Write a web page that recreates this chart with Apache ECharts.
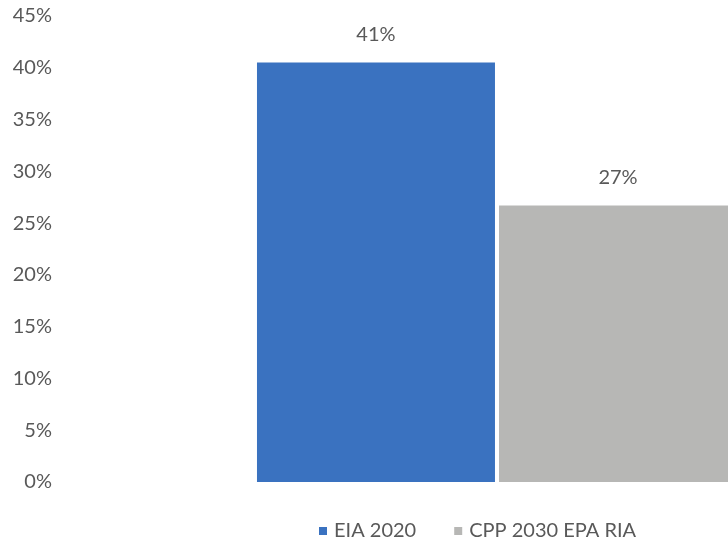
<!DOCTYPE html>
<html>
<head>
<meta charset="utf-8">
<script src="https://cdn.jsdelivr.net/npm/echarts@6/dist/echarts.min.js"></script>
<style>
  html, body { margin: 0; padding: 0; background: #fff; }
  #chart { width: 728px; height: 538px; }
</style>
</head>
<body>
<div id="chart"></div>
<script>
var categories = [''];
var seriesNames = ['EIA 2020', 'CPP 2030 EPA RIA'];
var eiaValues = [40.5];
var cppValues = [26.7];
var yTicks = { min: 0, max: 45, interval: 5 };

var chart = echarts.init(document.getElementById('chart'));
var textColor = '#595959';
var font = 'Lato, "Open Sans", sans-serif';

function barLabel() {
    return {
        show: true,
        position: 'top',
        distance: 18,
        color: textColor,
        fontFamily: font,
        fontSize: 20,
        formatter: function (p) { return Math.round(p.value) + '%'; }
    };
}

var option = {
    animation: false,
    grid: { left: 60, top: 16, bottom: 56, width: 874, outerBoundsMode: 'none', containLabel: false },
    legend: {
        data: seriesNames,
        left: 314,
        top: 516,
        itemWidth: 8,
        itemHeight: 8,
        itemGap: 38,
        icon: 'rect',
        textStyle: { color: textColor, fontFamily: font, fontSize: 20, padding: [0, 0, 0, 2] }
    },
    xAxis: {
        type: 'category',
        data: categories,
        axisLine: { show: false },
        axisTick: { show: false },
        axisLabel: { show: false }
    },
    yAxis: {
        type: 'value',
        min: yTicks.min,
        max: yTicks.max,
        interval: yTicks.interval,
        splitLine: { show: false },
        axisLine: { show: false },
        axisTick: { show: false },
        axisLabel: {
            formatter: '{value}%',
            color: textColor,
            fontFamily: font,
            fontSize: 20,
            margin: 8
        }
    },
    series: [{
        name: seriesNames[0],
        type: 'bar',
        data: eiaValues,
        barWidth: 238,
        barGap: '1.7%',
        itemStyle: { color: '#3a72c0' },
        label: barLabel()
    }, {
        name: seriesNames[1],
        type: 'bar',
        data: cppValues,
        barWidth: 238,
        itemStyle: { color: '#b7b7b5' },
        label: barLabel()
    }]
};
chart.setOption(option);
window.addEventListener('resize', chart.resize);
</script>
</body>
</html>
